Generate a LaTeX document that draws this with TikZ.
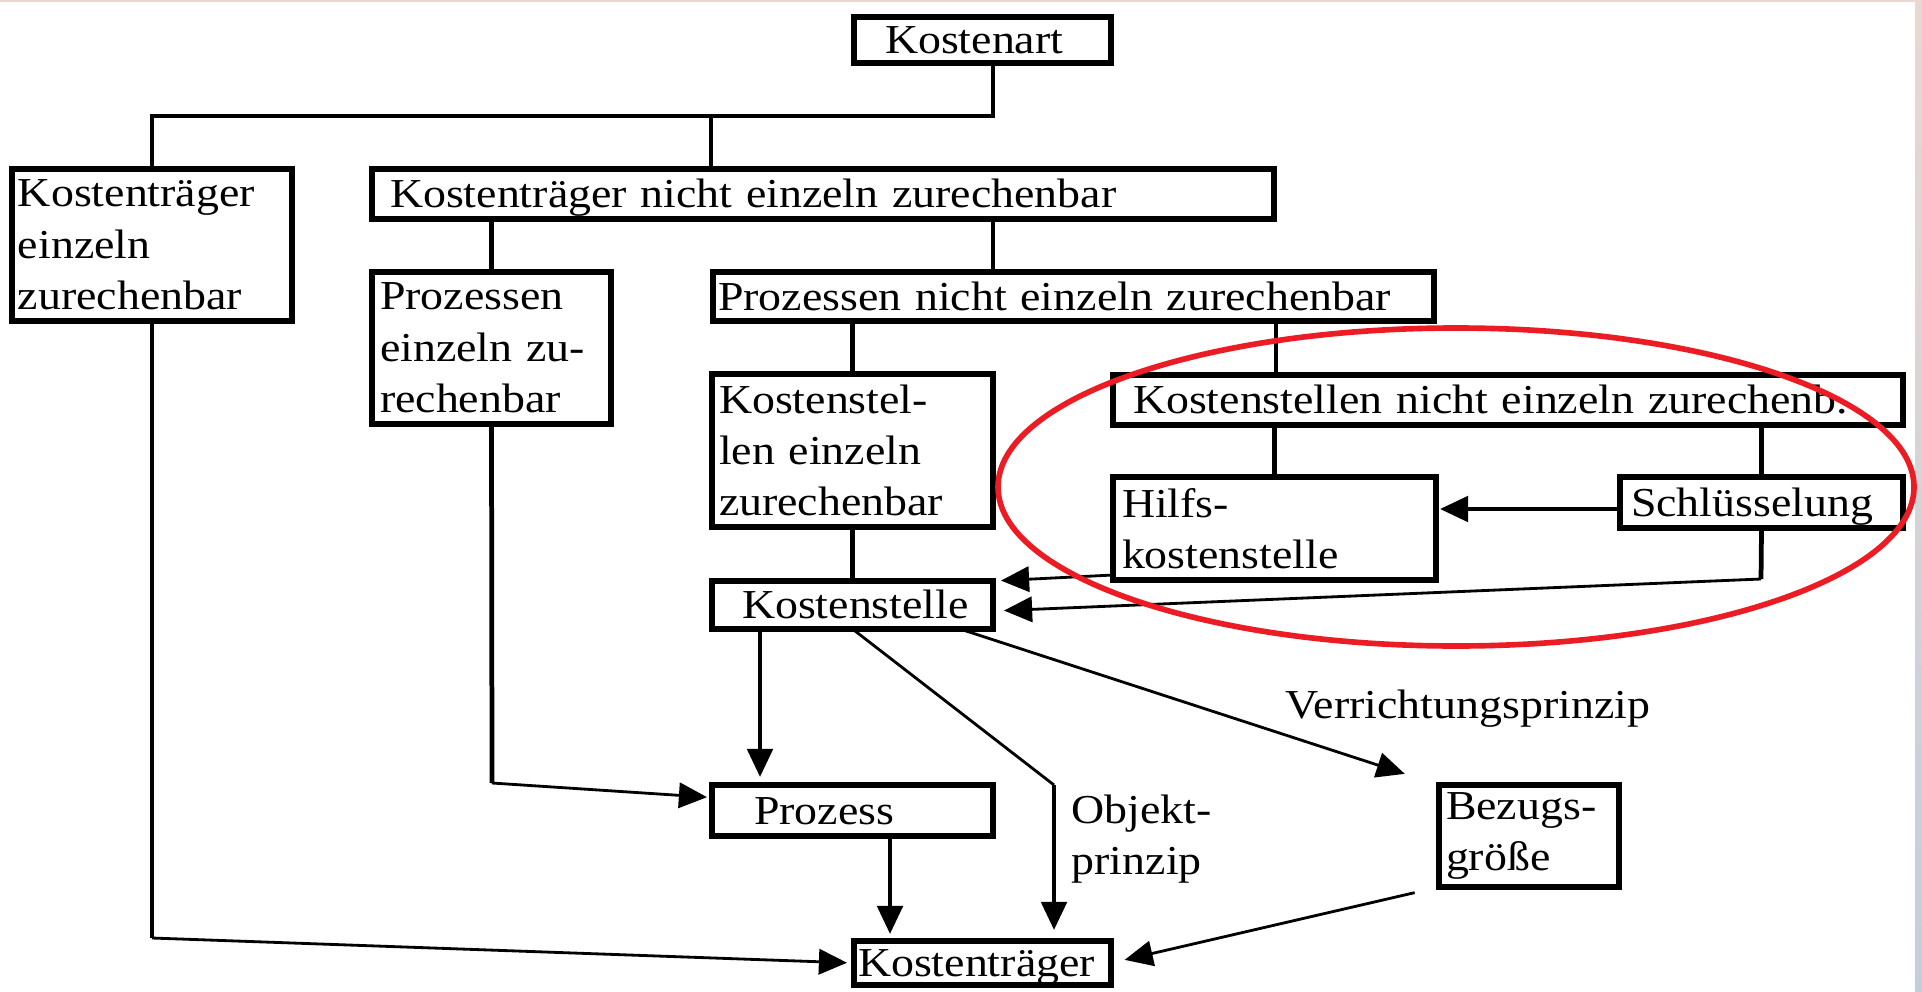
\documentclass[tikz,border=0pt]{standalone}
\usepackage{fontspec}
\setmainfont{Liberation Serif}[FakeStretch=1.115]
\usetikzlibrary{arrows.meta,calc}
\newlength\px
\setlength\px{0.01cm}
\hyphenpenalty=10000
\exhyphenpenalty=10000
\definecolor{ringred}{HTML}{EC1C24}
\definecolor{stripA}{HTML}{E9D8D0}
\definecolor{stripB}{HTML}{C3CEDD}
\begin{document}
\begin{tikzpicture}[x=0.01cm,y=-0.01cm,
  txt/.style={font=\fontsize{11.7}{14.6}\selectfont},
  box/.style={txt,draw,line width=1.75pt,rectangle,anchor=north west,align=left,
    inner ysep=0pt,outer sep=0pt},
  one/.style={text height=7.9pt,text depth=0pt},
  lbl/.style={txt,inner sep=0pt},
  tree/.style={line width=1.35pt},
  thinline/.style={line width=0.8pt},
  thickarr/.style={line width=1.25pt,-{Triangle[length=8pt,width=7.2pt]}},
  thinarr/.style={line width=0.8pt,-{Triangle[length=8pt,width=7.2pt]}},
  redring/.style={draw=ringred,line width=1.6pt}]
\useasboundingbox (0,0) rectangle (1922,991);
\fill[white] (0,0) rectangle (1922,991);
\fill[stripA] (0,0) rectangle (1922,2);
\shade[top color=stripA,bottom color=stripB] (1915,0) rectangle (1922,991);

% boxes
\node[box,one,minimum height=46\px,text width=195\px,inner xsep=31\px] (kart) at (854,17) {Kostenart};
\node[box,minimum height=152\px,text width=268\px,inner xsep=6\px] (kte) at (12,169) {Kostenträger\\einzeln\\zurechenbar};
\node[box,one,minimum height=50\px,text width=866\px,inner xsep=18\px] (ktn) at (372,169) {Kostenträger nicht einzeln zurechenbar};
\node[box,minimum height=152\px,text width=223\px,inner xsep=8\px] (pe) at (372,272) {Prozessen\\einzeln zu-\\rechenbar};
\node[box,one,minimum height=49\px,text width=711\px,inner xsep=5\px] (pn) at (713,272) {Prozessen nicht einzeln zurechenbar};
\node[box,minimum height=153\px,text width=267\px,inner xsep=7\px] (kse) at (712,374) {Kostenstel-\\len einzeln\\zurechenbar};
\node[box,one,minimum height=50\px,text width=750\px,inner xsep=20\px] (ksn) at (1113,375) {Kostenstellen nicht einzeln zurechenb.};
\node[box,minimum height=103\px,text width=305\px,inner xsep=9\px] (hk) at (1113,477) {Hilfs-\\kostenstelle};
\node[box,one,minimum height=51\px,text width=261\px,inner xsep=11\px] (sch) at (1620,477) {Schlüsselung};
\node[box,one,minimum height=48\px,text width=221\px,inner xsep=30\px] (ks) at (712,581) {Kostenstelle};
\node[box,one,minimum height=51\px,text width=197\px,inner xsep=42\px] (proz) at (712,785) {Prozess};
\node[box,minimum height=102\px,text width=166\px,inner xsep=7\px] (bez) at (1439,785) {Bezugs-\\größe};
\node[box,one,minimum height=44\px,text width=249\px,inner xsep=4\px] (ktr) at (854,941) {Kostenträger};

% labels
\node[lbl,anchor=base west] (vp) at (1285,718) {Verrichtungsprinzip};
\node[lbl,anchor=north west,align=left] (op) at (1071,794) {Objekt-\\prinzip};

% bend coordinates
\coordinate (b0) at (152,116);
\coordinate (b1) at (993,116);
\coordinate (b2) at (711,116);
\coordinate (c993) at (993,245);
\coordinate (c1276) at (1276,348);
\coordinate (csh) at (1500,509);
\coordinate (cs) at (1761,579);
\coordinate (ck) at (152,938);
\coordinate (cp) at (492,783);
\coordinate (co) at (1054,785);
\coordinate (c760) at (760,700);
\coordinate (c890) at (890,890);
\coordinate (c960) at (960,700);

% tree lines
\draw[tree] (kart.south -| b1) -- (b1) -- (b0) -- (kte.north -| b0);
\draw[tree] (b2) -- (ktn.north -| b2);
\draw[tree] (ktn.south -| pe.north) -- (pe.north);
\draw[tree] (ktn.south -| c993) -- (pn.north -| c993);
\draw[tree] (pn.south -| kse.north) -- (kse.north);
\draw[tree] (pn.south -| c1276) -- (ksn.north -| c1276);
\draw[tree] (ksn.south -| hk.north) -- (hk.north);
\draw[tree] (ksn.south -| sch.north) -- (sch.north);
\draw[tree] (kse.south) -- (ks.north);

% arrows in the circled part
\draw[thickarr,shorten >=4\px] (sch.west |- csh) -- (hk.east |- csh);
\draw[tree] (sch.south) -- (cs);
\draw[thinarr,shorten >=11\px] (cs) -- ([shift={(0,6)}]ks.east);
\draw[thinarr,shorten >=8\px] ([shift={(0,-5)}]hk.south west) -- (ks.north east);

% lower arrows
\draw[tree] (kte.south) -- (ck);
\draw[thinarr,shorten >=7\px] (ck) -- (ktr.west);
\draw[tree] (pe.south) -- (cp);
\draw[thinarr,shorten >=5\px] (cp) -- ([shift={(0,-13)}]proz.west);
\draw[thickarr,shorten >=8\px] (ks.south -| c760) -- (proz.north -| c760);
\draw[thickarr,shorten >=7\px] (proz.south -| c890) -- (ktr.north -| c890);
\draw[thinline] (ks.south) -- (co);
\draw[thickarr,shorten >=11\px] (co) -- (ktr.north -| co);
\draw[thinarr,shorten >=36\px] (ks.south -| c960) -- (bez.north west);
\draw[thinarr,shorten <=25\px,shorten >=14\px] (bez.south west) -- (ktr.east);

% red ellipse
\draw[redring] (1456,487) ellipse [x radius=458,y radius=159];
\end{tikzpicture}
\end{document}
